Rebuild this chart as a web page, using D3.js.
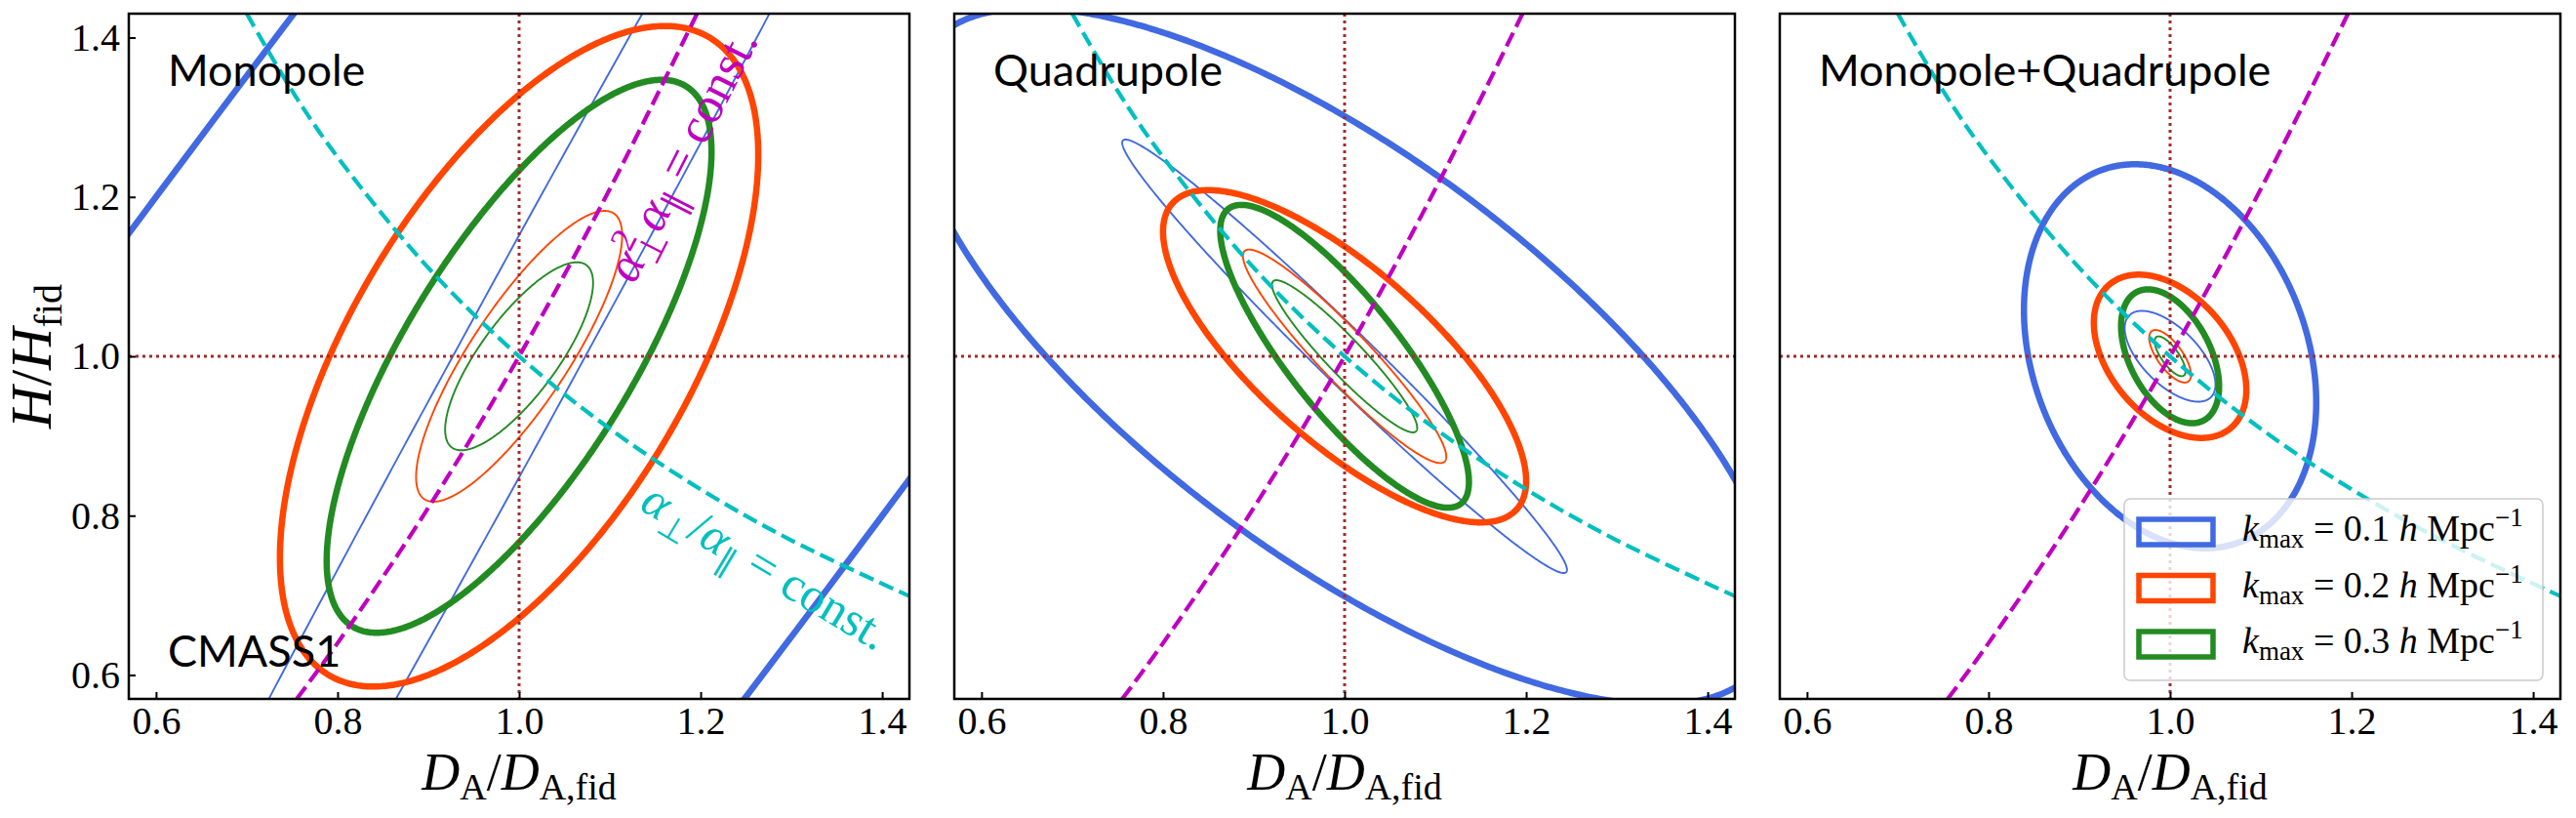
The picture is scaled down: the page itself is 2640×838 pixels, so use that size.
<!DOCTYPE html>
<html>
<head>
<meta charset="utf-8">
<script src="https://cdn.jsdelivr.net/npm/d3@7"></script>
<style>
  body { margin: 0; background: #fff; }
  .tick text { font-family: "Liberation Serif", serif; font-size: 40px; fill: #000; }
  .tick line { stroke: #000; stroke-width: 2; }
</style>
</head>
<body>
<div id="chart"></div>
<script>
// Tick labels
const xTicks = [0.6, 0.8, 1.0, 1.2, 1.4];
const yTicks = [0.6, 0.8, 1.0, 1.2, 1.4];

const panelTitles = ["Monopole", "Quadrupole", "Monopole+Quadrupole"];
const kmaxValues = ["0.1", "0.2", "0.3"];
const kmaxColors = ["#4169e1", "#ff4500", "#228b22"];

// Contours: [half-width in D_A, half-height in H, correlation]
// each list is ordered kmax = 0.1, 0.2, 0.3
const monopoleOuter   = [[2.18, 3.28, 0.97], [0.2635, 0.4145, 0.61], [0.212, 0.347, 0.74]];
const monopoleInner   = [[0.731, 1.52, 0.995], [0.1135, 0.1825, 0.83], [0.0815, 0.118, 0.78]];
const quadrupoleOuter = [[0.477, 0.437, -0.724], [0.2, 0.2085, -0.75], [0.137, 0.19, -0.83]];
const quadrupoleInner = [[0.245, 0.272, -0.985], [0.112, 0.134, -0.94], [0.08, 0.0955, -0.94]];
const combinedOuter   = [[0.161, 0.241, -0.24], [0.084, 0.1025, -0.41], [0.054, 0.084, -0.45]];
const combinedInner   = [[0.05, 0.057, -0.62], [0.023, 0.033, -0.7], [0.017, 0.025, -0.75]];

// Degeneracy directions (points along the dashed curves)
const ratioCurve  = [[0.70, 1.43], [0.75, 1.333], [0.8, 1.25], [0.9, 1.111], [1.0, 1.0],
                     [1.1, 0.909], [1.2, 0.833], [1.3, 0.769], [1.43, 0.699]];
const volumeCurve = [[0.755, 0.57], [0.8, 0.64], [0.9, 0.81], [1.0, 1.0], [1.1, 1.21], [1.196, 1.43]];

const fiducial = 1.0;

function initializeVisualization() {
    const width = 2640;
    const height = 838;
    const panelLefts = [132, 978, 1824];
    const panelWidth = 800;
    const top = 14;
    const bottom = 716;

    const panels = [
        { title: panelTitles[0], outer: monopoleOuter, inner: monopoleInner },
        { title: panelTitles[1], outer: quadrupoleOuter, inner: quadrupoleInner },
        { title: panelTitles[2], outer: combinedOuter, inner: combinedInner }
    ];

    const svg = d3.select("#chart")
        .append("svg")
        .attr("width", width)
        .attr("height", height)
        .style("background", "#fff");

    const defs = svg.append("defs");

    // parametric contour of an ellipse around the fiducial point
    function contour(p) {
        const [sx, sy, rho] = p;
        const s = Math.sqrt(1 - rho * rho);
        return d3.range(0, 720).map(i => {
            const t = i * Math.PI / 360;
            return [fiducial + sx * Math.cos(t), fiducial + sy * (rho * Math.cos(t) + s * Math.sin(t))];
        });
    }

    panels.forEach((panel, pi) => {
        const left = panelLefts[pi];
        const x = d3.scaleLinear().domain([0.57, 1.43]).range([left, left + panelWidth]);
        const y = d3.scaleLinear().domain([0.57, 1.43]).range([bottom, top]);

        defs.append("clipPath").attr("id", "clip" + pi)
            .append("rect")
            .attr("x", left).attr("y", top)
            .attr("width", panelWidth).attr("height", bottom - top);

        const g = svg.append("g").attr("clip-path", `url(#clip${pi})`);

        const closed = d3.line().x(d => x(d[0])).y(d => y(d[1])).curve(d3.curveLinearClosed);
        const open = d3.line().x(d => x(d[0])).y(d => y(d[1])).curve(d3.curveCatmullRom);

        // contours
        kmaxColors.forEach((c, k) => {
            g.append("path")
                .attr("d", closed(contour(panel.inner[k])))
                .attr("fill", "none")
                .attr("stroke", c)
                .attr("stroke-width", 1.9);
            g.append("path")
                .attr("d", closed(contour(panel.outer[k])))
                .attr("fill", "none")
                .attr("stroke", c)
                .attr("stroke-width", 6.5);
        });

        // fiducial dotted lines
        g.append("line")
            .attr("x1", x(fiducial)).attr("x2", x(fiducial))
            .attr("y1", top).attr("y2", bottom)
            .attr("stroke", "#a52a2a").attr("stroke-width", 3)
            .attr("stroke-dasharray", "3,4");
        g.append("line")
            .attr("x1", left).attr("x2", left + panelWidth)
            .attr("y1", y(fiducial)).attr("y2", y(fiducial))
            .attr("stroke", "#a52a2a").attr("stroke-width", 3)
            .attr("stroke-dasharray", "3,4");

        // degeneracy curves
        g.append("path")
            .attr("d", open(ratioCurve))
            .attr("fill", "none")
            .attr("stroke", "#00bfbf")
            .attr("stroke-width", 4.2)
            .attr("stroke-dasharray", "15.5,6.7");
        g.append("path")
            .attr("d", open(volumeCurve))
            .attr("fill", "none")
            .attr("stroke", "#bf00bf")
            .attr("stroke-width", 4.2)
            .attr("stroke-dasharray", "15.5,6.7");

        // axes
        const xAxis = svg.append("g")
            .attr("transform", `translate(0,${bottom})`)
            .call(d3.axisBottom(x).tickValues(xTicks).tickSize(-7).tickPadding(8).tickFormat(d3.format(".1f")));
        xAxis.select(".domain").remove();

        if (pi === 0) {
            const yAxis = svg.append("g")
                .attr("transform", `translate(${left},0)`)
                .call(d3.axisLeft(y).tickValues(yTicks).tickSize(-7).tickPadding(9).tickFormat(d3.format(".1f")));
            yAxis.select(".domain").remove();
        }

        // frame
        svg.append("rect")
            .attr("x", left).attr("y", top)
            .attr("width", panelWidth).attr("height", bottom - top)
            .attr("fill", "none")
            .attr("stroke", "#000")
            .attr("stroke-width", 2.5);

        // panel title
        svg.append("text")
            .attr("x", left + 40)
            .attr("y", 88)
            .attr("font-family", "Lato, sans-serif")
            .attr("font-size", 45)
            .text(panel.title);

        // x label
        const xl = svg.append("text")
            .attr("x", left + panelWidth / 2)
            .attr("y", 809)
            .attr("text-anchor", "middle")
            .attr("font-family", "Liberation Serif, serif")
            .attr("font-size", 54);
        xl.append("tspan").attr("font-style", "italic").text("D");
        xl.append("tspan").attr("font-size", 38).attr("dy", 10).text("A");
        xl.append("tspan").attr("dy", -10).text("/");
        xl.append("tspan").attr("font-style", "italic").text("D");
        xl.append("tspan").attr("font-size", 38).attr("dy", 10).text("A,fid");
    });

    // y label
    const yl = svg.append("text")
        .attr("transform", "translate(52,365) rotate(-90)")
        .attr("text-anchor", "middle")
        .attr("font-family", "Liberation Serif, serif")
        .attr("font-size", 60);
    yl.append("tspan").attr("font-style", "italic").text("H");
    yl.append("tspan").text("/");
    yl.append("tspan").attr("font-style", "italic").text("H");
    yl.append("tspan").attr("font-size", 40).attr("dy", 11).text("fid");

    // sample name
    svg.append("text")
        .attr("x", panelLefts[0] + 40)
        .attr("y", 683)
        .attr("font-family", "Lato, sans-serif")
        .attr("font-size", 45)
        .text("CMASS1");

    // curve annotations
    const magText = svg.append("text")
        .attr("transform", "translate(650,292) rotate(-63)")
        .attr("font-family", "Liberation Serif, serif")
        .attr("font-size", 52)
        .attr("fill", "#bf00bf");
    magText.append("tspan").attr("font-style", "italic").text("α");
    magText.append("tspan").attr("font-size", 36).attr("dy", -19).text("2");
    magText.append("tspan").attr("font-size", 36).attr("dx", -18).attr("dy", 30).text("⊥");
    magText.append("tspan").attr("font-style", "italic").attr("dy", -11).text("α");
    magText.append("tspan").attr("font-size", 36).attr("dy", 11).text("∥");
    magText.append("tspan").attr("dy", -11).text(" = const.");

    const cyText = svg.append("text")
        .attr("transform", "translate(654,521) rotate(31)")
        .attr("font-family", "Liberation Serif, serif")
        .attr("font-size", 50)
        .attr("fill", "#00bfbf");
    cyText.append("tspan").attr("font-style", "italic").text("α");
    cyText.append("tspan").attr("font-size", 34).attr("dy", 11).text("⊥");
    cyText.append("tspan").attr("dy", -11).text("/");
    cyText.append("tspan").attr("font-style", "italic").text("α");
    cyText.append("tspan").attr("font-size", 34).attr("dy", 11).text("∥");
    cyText.append("tspan").attr("dy", -11).text(" = const.");

    // legend
    const legend = svg.append("g");
    legend.append("rect")
        .attr("x", 2177).attr("y", 511)
        .attr("width", 429).attr("height", 186)
        .attr("rx", 6)
        .attr("fill", "#fff").attr("fill-opacity", 0.8)
        .attr("stroke", "#cccccc").attr("stroke-width", 1.5);

    kmaxValues.forEach((v, i) => {
        const cy = 545 + i * 57.5;
        legend.append("rect")
            .attr("x", 2192).attr("y", cy - 13)
            .attr("width", 76).attr("height", 26)
            .attr("fill", "none")
            .attr("stroke", kmaxColors[i])
            .attr("stroke-width", 5.5);
        const t = legend.append("text")
            .attr("x", 2298).attr("y", cy + 9)
            .attr("font-family", "Liberation Serif, serif")
            .attr("font-size", 38);
        t.append("tspan").attr("font-style", "italic").text("k");
        t.append("tspan").attr("font-size", 27).attr("dy", 7).text("max");
        t.append("tspan").attr("dy", -7).text(" = " + v + " ");
        t.append("tspan").attr("font-style", "italic").text("h");
        t.append("tspan").text(" Mpc");
        t.append("tspan").attr("font-size", 27).attr("dy", -15).text("−1");
    });
}

document.addEventListener("DOMContentLoaded", initializeVisualization);
</script>
</body>
</html>
